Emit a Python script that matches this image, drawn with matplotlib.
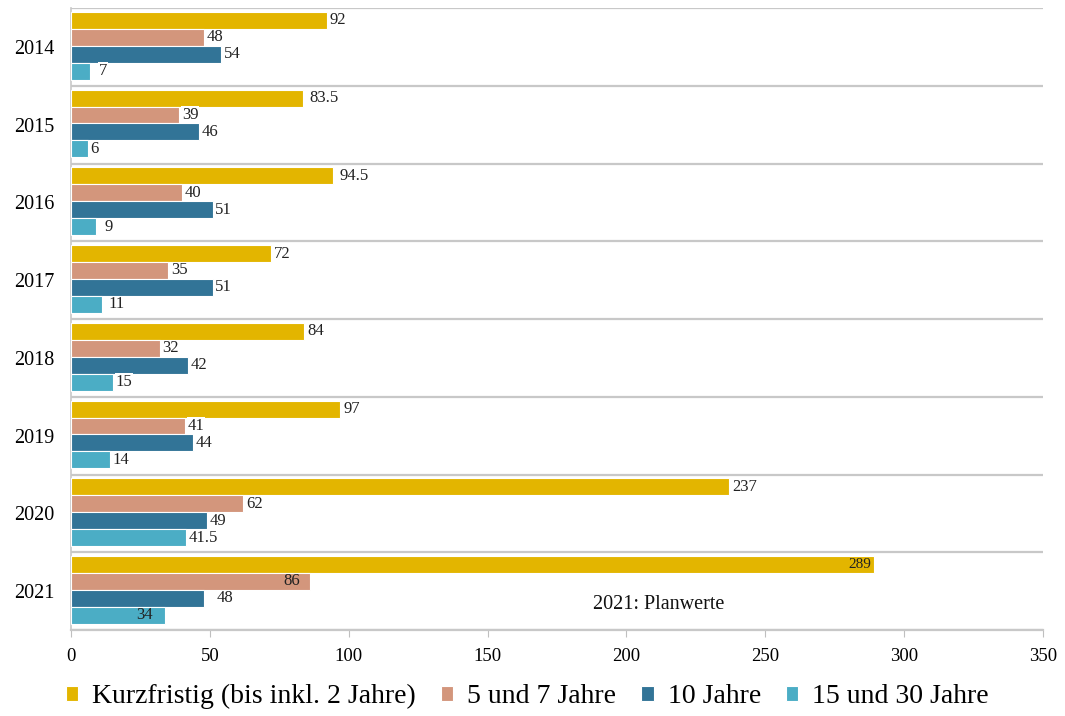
import numpy as np
import matplotlib
matplotlib.use("Agg")
import matplotlib.pyplot as plt

plt.rcParams['font.family'] = ['Liberation Serif', 'DejaVu Serif']

years = ['2014', '2015', '2016', '2017', '2018', '2019', '2020', '2021']
series = ['Kurzfristig (bis inkl. 2 Jahre)', '5 und 7 Jahre', '10 Jahre', '15 und 30 Jahre']
kurz = [92, 83.5, 94.5, 72, 84, 97, 237, 289]
j5_7 = [48, 39, 40, 35, 32, 41, 62, 86]
j10 = [54, 46, 51, 51, 42, 44, 49, 48]
j15_30 = [7, 6, 9, 11, 15, 14, 41.5, 34]
colors = ['#E3B500', '#D3967C', '#327497', '#4BADC5']

# label tweaks (year index, series index) -> (x offset in points, ha)
label_tweak = {
    (0, 3): (6, 'left'), (1, 0): (5, 'left'), (2, 0): (4, 'left'),
    (2, 3): (6, 'left'), (3, 3): (5, 'left'),
    (7, 0): (-2, 'right'), (7, 1): (-7, 'right'), (7, 2): (9, 'left'),
    (7, 3): (-9, 'right'),
}

fig = plt.figure(figsize=(10.65, 7.16), dpi=100)
ax = fig.add_axes([0.0667, 0.1201, 0.9126, 0.8687])

data = [kurz, j5_7, j10, j15_30]
h = 0.218
offs = [-1.5 * h, -0.5 * h, 0.5 * h, 1.5 * h]
y = np.arange(len(years))
for s, vals in enumerate(data):
    ax.barh(y + offs[s] - 0.015, vals, height=h, color=colors[s], edgecolor='white',
            linewidth=0.8, label=series[s], zorder=3)
    for i, v in enumerate(vals):
        dx, ha = label_tweak.get((i, s), (2, 'left'))
        txt = ('%g' % v)
        inside = ha == 'right'
        ax.annotate(txt, (v, y[i] + offs[s] - 0.015), xytext=(dx, 0),
                    textcoords='offset points', ha=ha, va='center',
                    fontsize=12 if not (i == 7 and s == 0) else 11, color='#222222', zorder=4,
                    bbox=None if inside else dict(facecolor='white', edgecolor='none', pad=0.5))

ax.text(188, 7.17, '2021: Planwerte', fontsize=14.5, va='center', ha='left', color='#111111')

ax.set_xlim(0, 350)
ax.set_ylim(7.5, -0.5)
ax.set_xticks(np.arange(0, 351, 50))
ax.set_yticks(y)
ax.set_yticklabels(years, fontsize=14.5)
ax.set_yticks(np.arange(-0.5, 7.6, 1), minor=True)
ax.tick_params(axis='y', which='both', length=0, pad=12)
ax.tick_params(axis='x', labelsize=13.5, length=5, color='#BFBFBF', pad=8)
ax.grid(which='minor', axis='y', color='#C8C8C8', linewidth=1.6, zorder=0)
for sp in ['top', 'right']:
    ax.spines[sp].set_visible(False)
ax.spines['left'].set_color('#C8C8C8')
ax.spines['left'].set_linewidth(1.2)
ax.spines['bottom'].set_color('#C8C8C8')
ax.spines['bottom'].set_linewidth(1.6)

fig.legend(loc='center', bbox_to_anchor=(0.495, 0.027), ncol=4, frameon=False,
           fontsize=20, handlelength=0.45, handleheight=0.45, handletextpad=0.5,
           columnspacing=0.9)

fig.savefig('out.png', dpi=100)
